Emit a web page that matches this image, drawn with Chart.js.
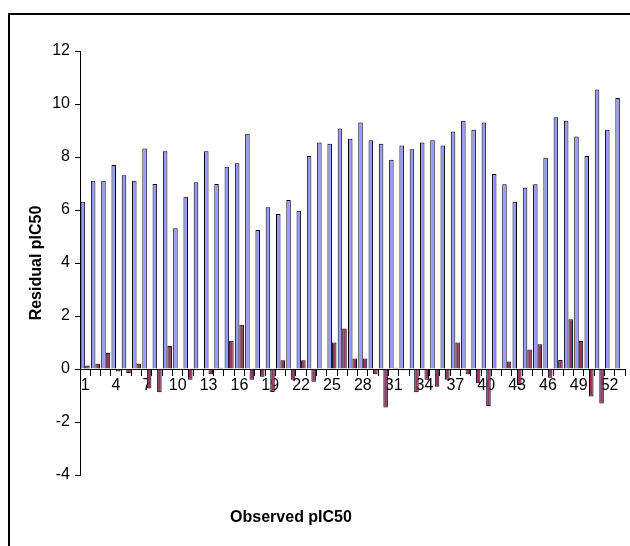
<!DOCTYPE html>
<html>
<head>
<meta charset="utf-8">
<script src="https://cdn.jsdelivr.net/npm/chart.js@4/dist/chart.umd.min.js"></script>
<style>
  body { margin: 0; background: #fff; }
  #wrap { position: relative; width: 630px; height: 546px; overflow: hidden; }
  #frame {
    position: absolute; left: 8px; top: 13px; width: 700px; height: 600px;
    border-left: 2px solid #000; border-top: 2px solid #000; pointer-events: none;
  }
</style>
</head>
<body>
<div id="wrap">
  <canvas id="residual_chart" width="630" height="546"></canvas>
  <div id="frame"></div>
</div>
<script>
//compound numbers along x
const categories = ['1','2','3','4','5','6','7','8','9','10','11','12','13','14','15','16','17','18',
	'19','20','21','22','23','24','25','26','27','28','29','30','31','32','33','34','35','36',
	'37','38','39','40','41','42','43','44','45','46','47','48','49','50','51','52','53'];
//only every third number is printed under the axis
const shownTicks = ['1','4','7','10','13','16','19','22','25','28','31','34','37','40','43','46','49','52'];

//blue bars
const observed = [6.31, 7.10, 7.10, 7.70, 7.31, 7.10, 8.32, 6.98, 8.22, 5.31,
	6.50, 7.05, 8.22, 6.98, 7.63, 7.76, 8.88, 5.25, 6.10, 5.85,
	6.38, 5.97, 8.04, 8.55, 8.50, 9.08, 8.69, 9.30, 8.63, 8.50,
	7.90, 8.43, 8.29, 8.55, 8.63, 8.43, 8.96, 9.37, 9.03, 9.30,
	7.36, 6.97, 6.31, 6.84, 6.97, 7.97, 9.50, 9.37, 8.77, 8.04,
	10.55, 9.03, 10.23];

//maroon bars
const residual = [0.13, 0.20, 0.60, -0.09, -0.15, 0.20, -0.74, -0.88, 0.87, 0.02,
	-0.41, -0.05, -0.20, 0.05, 1.07, 1.67, -0.41, -0.29, -0.87, 0.33,
	-0.41, 0.33, -0.48, -0.05, 1.00, 1.53, 0.40, 0.40, -0.20, -1.45,
	0.05, -0.05, -0.88, -0.41, -0.67, -0.41, 1.00, -0.20, -0.54, -1.40,
	-0.05, 0.28, -0.60, 0.74, 0.93, -0.33, 0.34, 1.88, 1.06, -1.04,
	-1.30, 0.00, -0.05];

const fontFam = "'Liberation Sans', Arial, sans-serif";
Chart.defaults.font.family = fontFam;
Chart.defaults.color = '#000';

//x axis sits on zero, so its title is drawn by hand
const xTitle = {
	id: 'xTitle',
	afterDraw(chart) {
		const c = chart.ctx;
		c.save();
		c.font = "bold 16px " + fontFam;
		c.fillStyle = '#000';
		c.textAlign = 'center';
		c.textBaseline = 'middle';
		c.fillText('Observed pIC50', 291, 518);
		c.restore();
	}
};

const ctx = document.getElementById('residual_chart').getContext('2d');
new Chart(ctx, {
	type: 'bar',
	data: {
		labels: categories,
		datasets: [{
			label: 'Observed',
			data: observed,
			backgroundColor: '#9999ff',
			borderColor: '#000000',
			borderWidth: 1,
			categoryPercentage: 0.88,
			barPercentage: 1.0
		}, {
			label: 'Residual',
			data: residual,
			backgroundColor: '#993366',
			borderColor: '#000000',
			borderWidth: 1,
			categoryPercentage: 0.88,
			barPercentage: 1.0
		}]
	},
	options: {
		responsive: false,
		animation: false,
		layout: { padding: { left: 0, right: 5, top: 51, bottom: 71 } },
		plugins: { legend: { display: false }, tooltip: { enabled: false } },
		scales: {
			x: {
				position: { y: 0 },
				grid: { drawOnChartArea: false, offset: true, tickLength: 6, color: '#000' },
				border: { color: '#000', width: 1 },
				ticks: {
					autoSkip: false, maxRotation: 0, padding: 1,
					font: { size: 16 },
					callback: (v, i) => shownTicks.includes(categories[i]) ? categories[i] : ''
				}
			},
			y: {
				min: -4, max: 12,
				afterFit: (scale) => { scale.width = 80; },
				grid: { drawOnChartArea: false, tickLength: 5, color: '#000' },
				border: { color: '#000', width: 1 },
				ticks: { stepSize: 2, padding: 5, font: { size: 16 } },
				title: {
					display: true,
					text: 'Residual pIC50',
					font: { size: 16, weight: 'bold' },
					padding: { top: 27, bottom: 0 }
				}
			}
		}
	},
	plugins: [xTitle]
});
</script>
</body>
</html>
